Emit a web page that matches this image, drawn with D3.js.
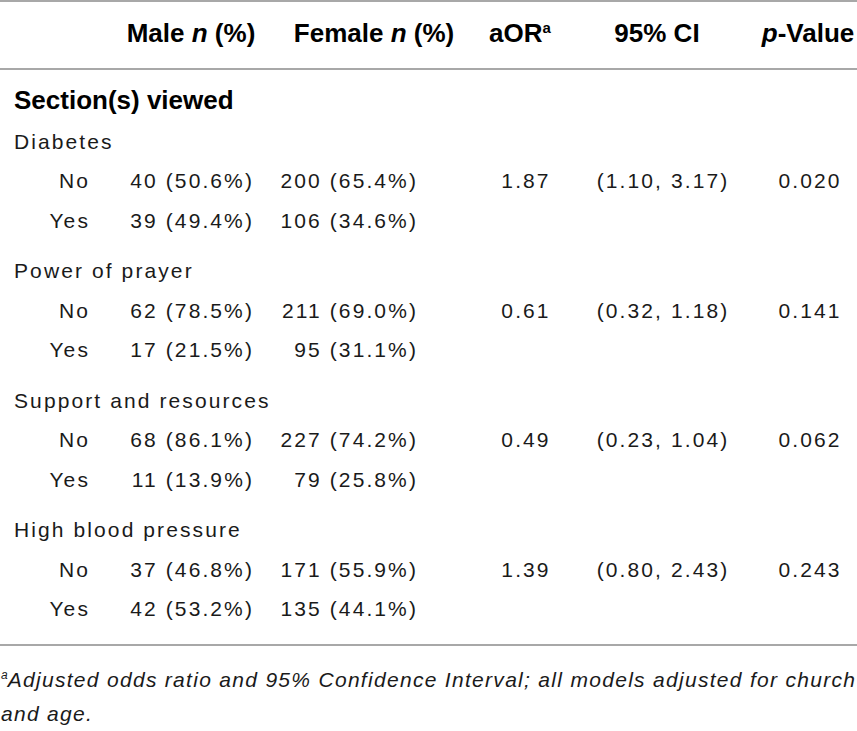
<!DOCTYPE html>
<html><head><meta charset="utf-8">
<script src="https://cdn.jsdelivr.net/npm/d3@7"></script>
<style>
html,body{margin:0;padding:0;background:#fff;}
svg{display:block;}
.hdr{font-family:"Liberation Sans",sans-serif;font-weight:bold;font-size:26px;fill:#000;}
.body{font-family:"Liberation Sans",sans-serif;font-size:21px;letter-spacing:2.1px;fill:#1a1a1a;}
.foot{font-family:"Liberation Sans",sans-serif;font-style:italic;font-size:21px;letter-spacing:1.3px;fill:#1a1a1a;}
</style></head>
<body>
<script>
const headers = ["Male n (%)", "Female n (%)", "aORa", "95% CI", "p-Value"];
const groups = ["Diabetes", "Power of prayer", "Support and resources", "High blood pressure"];
const levels = ["No", "Yes"];
const maleN = [[40, 39], [62, 17], [68, 11], [37, 42]];
const malePct = [["50.6", "49.4"], ["78.5", "21.5"], ["86.1", "13.9"], ["46.8", "53.2"]];
const femaleN = [[200, 106], [211, 95], [227, 79], [171, 135]];
const femalePct = [["65.4", "34.6"], ["69.0", "31.1"], ["74.2", "25.8"], ["55.9", "44.1"]];
const aOR = ["1.87", "0.61", "0.49", "1.39"];
const ciLow = ["1.10", "0.32", "0.23", "0.80"];
const ciHigh = ["3.17", "1.18", "1.04", "2.43"];
const pValue = ["0.020", "0.141", "0.062", "0.243"];
const sectionTitle = "Section(s) viewed";
const footnote = ["Adjusted odds ratio and 95% Confidence Interval; all models adjusted for church", "and age."];

const W = 857, H = 731;
const svg = d3.select("body").append("svg").attr("width", W).attr("height", H);

const colX = d3.scaleOrdinal().domain(["label","level","male","female","aor","ci","p"])
  .range([14, 90, 254, 418, 526, 663, 810]);
const hdrX = [191, 374, 520, 657, 808];

const yGroup = d3.scaleLinear().domain([0, 1]).range([141, 270.5]);
const rowStep = 39.7;

const line = (y) => svg.append("line").attr("x1", 0).attr("x2", W).attr("y1", y).attr("y2", y)
  .attr("stroke", "#a8a8a8").attr("stroke-width", 2);
line(1); line(69); line(645);

const hg = svg.append("g");
const hy = 42;
headers.forEach((h, i) => {
  const t = hg.append("text").attr("class", "hdr").attr("x", hdrX[i]).attr("y", hy).attr("text-anchor", "middle");
  if (i === 0) { t.append("tspan").text("Male "); t.append("tspan").attr("font-style","italic").text("n"); t.append("tspan").text(" (%)"); }
  else if (i === 1) { t.append("tspan").text("Female "); t.append("tspan").attr("font-style","italic").text("n"); t.append("tspan").text(" (%)"); }
  else if (i === 2) { t.append("tspan").text("aOR"); t.append("tspan").attr("font-size", "15px").attr("dy", -9).text("a"); }
  else if (i === 4) { t.append("tspan").attr("font-style","italic").text("p"); t.append("tspan").text("-Value"); }
  else t.text(h);
});

svg.append("text").attr("class", "hdr").attr("x", 14).attr("y", 109).text(sectionTitle);

const base = 7.5;
groups.forEach((g, gi) => {
  const y0 = yGroup(gi);
  svg.append("text").attr("class", "body").attr("x", colX("label")).attr("y", y0 + base).text(g);
  levels.forEach((lv, li) => {
    const y = y0 + rowStep * (li + 1) + base;
    svg.append("text").attr("class", "body").attr("x", colX("level")).attr("y", y).attr("text-anchor", "end").text(lv);
    svg.append("text").attr("class", "body").attr("x", colX("male")).attr("y", y).attr("text-anchor", "end")
      .text(`${maleN[gi][li]} (${malePct[gi][li]}%)`);
    svg.append("text").attr("class", "body").attr("x", colX("female")).attr("y", y).attr("text-anchor", "end")
      .text(`${femaleN[gi][li]} (${femalePct[gi][li]}%)`);
    if (li === 0) {
      svg.append("text").attr("class", "body").attr("x", colX("aor")).attr("y", y).attr("text-anchor", "middle").text(aOR[gi]);
      svg.append("text").attr("class", "body").attr("x", colX("ci")).attr("y", y).attr("text-anchor", "middle").text(`(${ciLow[gi]}, ${ciHigh[gi]})`);
      svg.append("text").attr("class", "body").attr("x", colX("p")).attr("y", y).attr("text-anchor", "middle").text(pValue[gi]);
    }
  });
});

const f1 = svg.append("text").attr("class", "foot").attr("x", 1).attr("y", 687);
f1.append("tspan").attr("font-size", "12px").attr("letter-spacing", "0px").attr("dy", -8).text("a");
f1.append("tspan").attr("dy", 8).text(footnote[0]);
svg.append("text").attr("class", "foot").attr("x", 1).attr("y", 721).text(footnote[1]);
</script>
</body></html>
